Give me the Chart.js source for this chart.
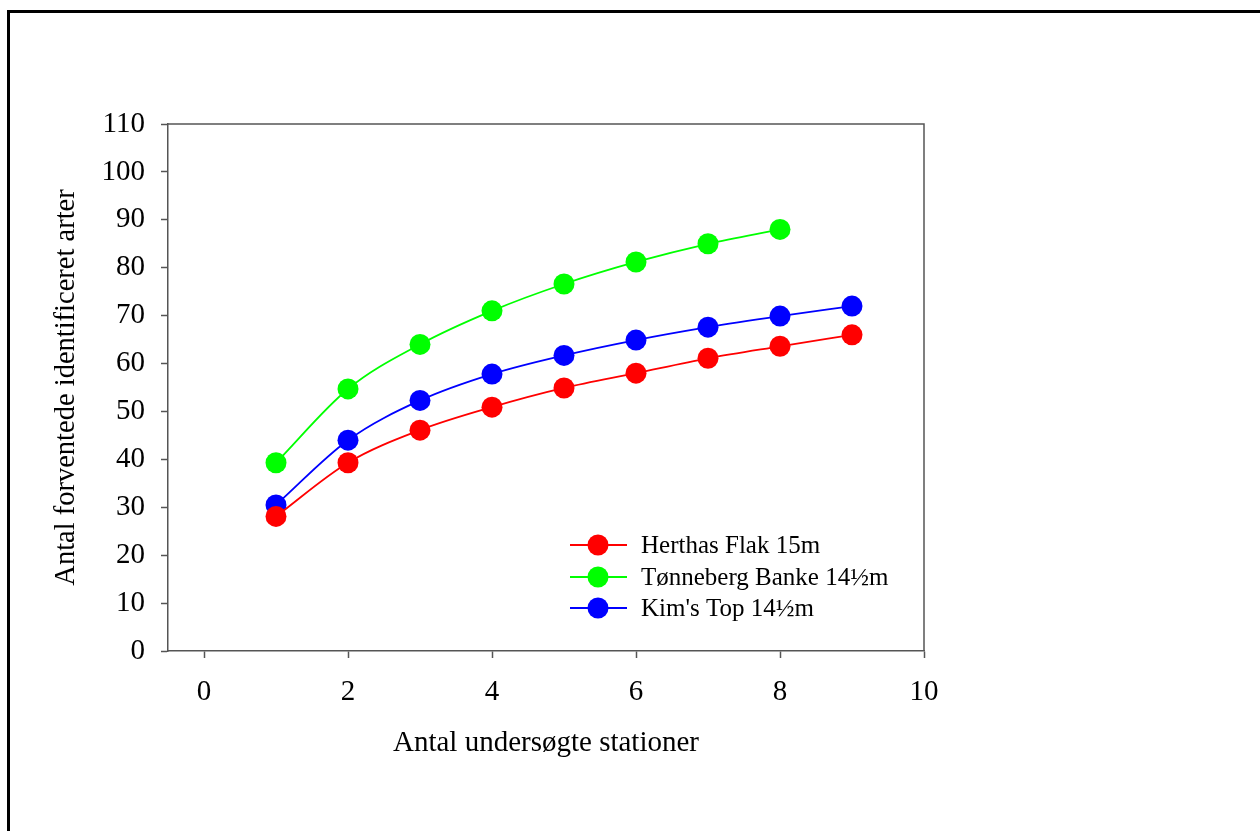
<!DOCTYPE html>
<html>
<head>
<meta charset="utf-8">
<script src="https://cdn.jsdelivr.net/npm/chart.js@4"></script>
<style>
  html, body { margin: 0; padding: 0; background: #fff; }
  #wrap { width: 1260px; height: 831px; }
</style>
</head>
<body>
<div id="wrap"><canvas id="curveChart" width="1260" height="831"></canvas></div>
<script>
  "use strict";

  // data
  var stations = [1, 2, 3, 4, 5, 6, 7, 8, 9];
  var herthas = [28.1, 39.3, 46.1, 50.9, 54.9, 58.0, 61.1, 63.6, 66.0];
  var tonneberg = [39.3, 54.7, 64.0, 71.0, 76.6, 81.2, 85.0, 88.0];
  var kims = [30.5, 44.0, 52.3, 57.8, 61.7, 64.9, 67.6, 69.9, 72.0];
  var seriesNames = ["Herthas Flak 15m", "Tønneberg Banke 14½m", "Kim's Top 14½m"];
  var seriesColors = ["#ff0000", "#00ff00", "#0000ff"];
  var xTicks = [0, 2, 4, 6, 8, 10];
  var yTicks = [0, 10, 20, 30, 40, 50, 60, 70, 80, 90, 100, 110];

  var FONT = "'Liberation Serif', 'Times New Roman', serif";
  var AXIS = "#555555";

  function toPoints(values) {
    return values.map(function (v, i) { return { x: stations[i], y: v }; });
  }

  var allSeries = [herthas, tonneberg, kims];

  var framePlugin = {
    id: "frame",
    beforeDraw: function (chart) {
      var c = chart.ctx;
      c.save();
      c.fillStyle = "#fff";
      c.fillRect(0, 0, chart.width, chart.height);
      c.strokeStyle = "#000";
      c.lineWidth = 3;
      c.beginPath();
      c.moveTo(8.5, chart.height);
      c.lineTo(8.5, 11.5);
      c.lineTo(chart.width, 11.5);
      c.stroke();
      c.restore();
    },
    afterDraw: function (chart) {
      var a = chart.chartArea;
      var c = chart.ctx;
      c.save();
      // top and right plot border
      c.strokeStyle = AXIS;
      c.lineWidth = 1.5;
      c.beginPath();
      c.moveTo(a.left, a.top);
      c.lineTo(a.right, a.top);
      c.lineTo(a.right, a.bottom);
      c.stroke();

      // legend inside the plot
      var x0 = 570, x1 = 627, xc = 598;
      var ys = [545, 577, 608];
      c.font = "25px " + FONT;
      c.textBaseline = "middle";
      c.textAlign = "left";
      for (var i = 0; i < seriesNames.length; i++) {
        c.strokeStyle = seriesColors[i];
        c.lineWidth = 1.8;
        c.beginPath();
        c.moveTo(x0, ys[i]);
        c.lineTo(x1, ys[i]);
        c.stroke();
        c.fillStyle = seriesColors[i];
        c.beginPath();
        c.arc(xc, ys[i], 10.5, 0, Math.PI * 2);
        c.fill();
        c.fillStyle = "#000";
        c.fillText(seriesNames[i], 641, ys[i] + 1);
      }
      c.restore();
    }
  };

  try {
    var ctx = document.getElementById("curveChart");
    var myChart = new Chart(ctx, {
      type: "line",
      data: {
        datasets: allSeries.map(function (s, i) {
          return {
            label: seriesNames[i],
            data: toPoints(s),
            borderColor: seriesColors[i],
            backgroundColor: seriesColors[i],
            pointBackgroundColor: seriesColors[i],
            pointBorderColor: seriesColors[i],
            borderWidth: 1.8,
            pointRadius: 10.5,
            pointBorderWidth: 0,
            cubicInterpolationMode: "monotone",
            fill: false,
          };
        }),
      },
      options: {
        responsive: false,
        animation: false,
        layout: { padding: { left: 49, right: 336, top: 124, bottom: 70 } },
        plugins: {
          legend: { display: false },
          tooltip: { enabled: false },
        },
        scales: {
          x: {
            type: "linear",
            min: -0.5,
            max: 10,
            afterFit: function (scale) { scale.height = 110; },
            afterBuildTicks: function (scale) {
              scale.ticks = xTicks.map(function (v) { return { value: v }; });
            },
            ticks: {
              includeBounds: false,
              padding: 17,
              color: "#000",
              font: { family: FONT, size: 29 },
              maxRotation: 0,
            },
            grid: {
              drawOnChartArea: false,
              drawTicks: true,
              tickLength: 7,
              tickColor: AXIS,
              tickWidth: 1.5,
            },
            border: { color: AXIS, width: 1.5 },
            title: {
              display: true,
              text: "Antal undersøgte stationer",
              color: "#000",
              font: { family: FONT, size: 29 },
              padding: 0,
            },
          },
          y: {
            type: "linear",
            min: 0,
            max: 110,
            afterFit: function (scale) { scale.width = 119; },
            afterBuildTicks: function (scale) {
              scale.ticks = yTicks.map(function (v) { return { value: v }; });
            },
            ticks: {
              padding: 16,
              color: "#000",
              font: { family: FONT, size: 29 },
            },
            grid: {
              drawOnChartArea: false,
              drawTicks: true,
              tickLength: 7,
              tickColor: AXIS,
              tickWidth: 1.5,
            },
            border: { color: AXIS, width: 1.5 },
            title: {
              display: true,
              text: "Antal forventede identificeret arter",
              color: "#000",
              font: { family: FONT, size: 28.5 },
              padding: 0,
            },
          },
        },
      },
      plugins: [framePlugin],
    });
  } catch (error) {
    console.log(error);
  }
</script>
</body>
</html>
